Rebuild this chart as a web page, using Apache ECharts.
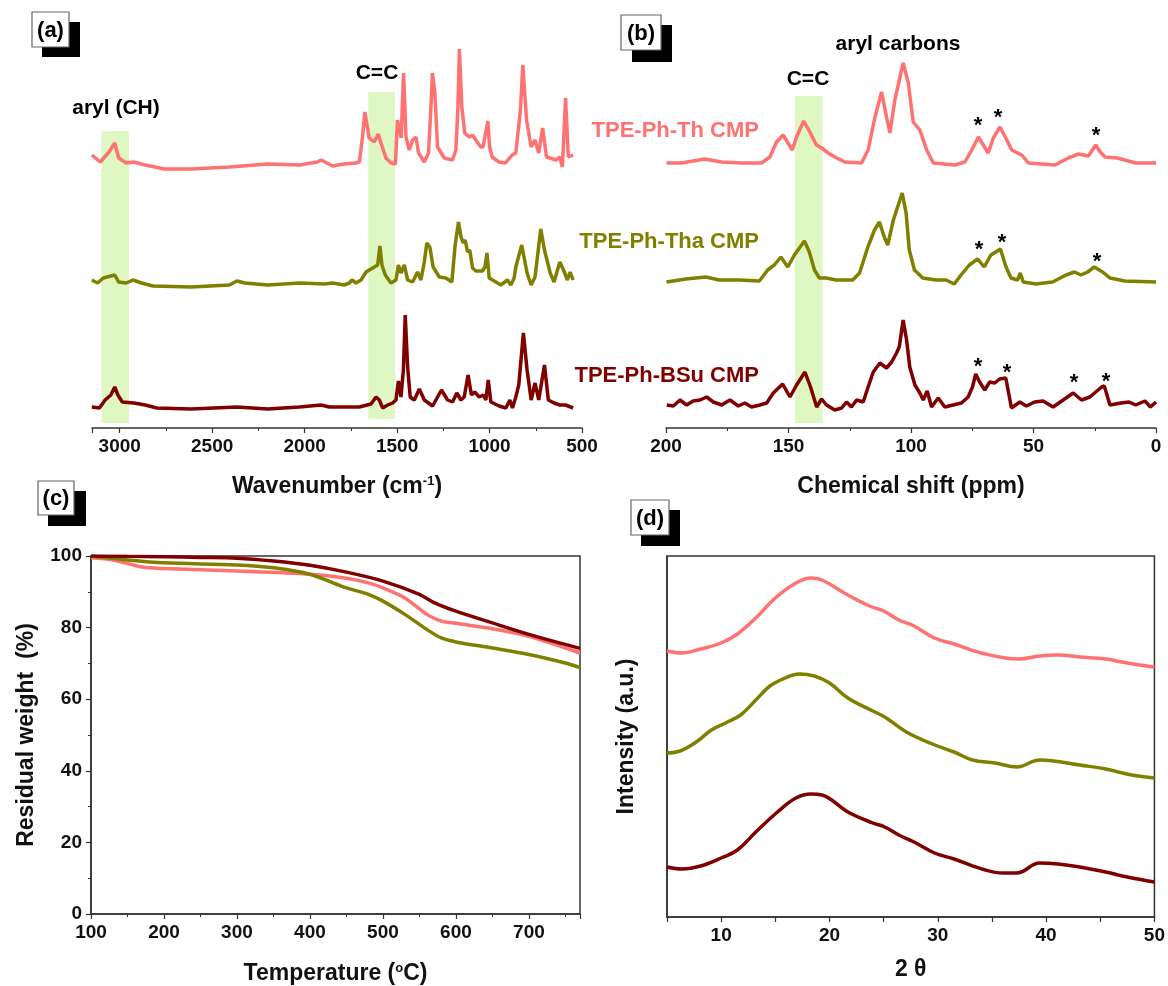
<!DOCTYPE html>
<html>
<head>
<meta charset="utf-8">
<script src="https://cdn.jsdelivr.net/npm/echarts@6/dist/echarts.min.js"></script>
<style>
  html, body { margin: 0; padding: 0; background: #fff; }
  #chart { width: 1168px; height: 986px; }
</style>
</head>
<body>
<div id="chart"></div>
<script>
// (a) FT-IR, [wavenumber, intensity a.u.]
var irTh = [[3151,273],[3105,266],[3058,276],[3027,285],[3006,270],[2965,265],[2924,266],[2862,263],[2758,259],[2614,259],[2407,261],[2200,264],[2028,263],[1932,266],[1911,268],[1870,264],[1850,262],[1787,264],[1725,265],[1704,266],[1687,291],[1674,316],[1651,290],[1624,286],[1602,294],[1587,285],[1560,270],[1533,265],[1509,264],[1498,308],[1489,300],[1478,290],[1465,355],[1452,291],[1434,278],[1416,288],[1398,291],[1384,275],[1353,266],[1330,275],[1317,321],[1309,355],[1296,335],[1281,281],[1245,270],[1200,268],[1182,278],[1171,321],[1163,379],[1150,321],[1134,295],[1110,291],[1092,293],[1074,288],[1047,281],[1035,281],[1025,291],[1009,307],[1000,281],[986,271],[950,266],[914,265],[878,273],[858,275],[833,318],[820,363],[800,308],[775,281],[754,288],[734,275],[713,300],[692,271],[641,268],[620,271],[606,261],[589,330],[574,271],[548,273]];
var irTha = [[3151,148],[3120,145],[3089,150],[3048,152],[3027,153],[3006,146],[2965,145],[2928,148],[2882,145],[2820,142],[2614,141],[2407,143],[2366,147],[2324,145],[2200,143],[2028,145],[1891,144],[1848,145],[1787,143],[1758,145],[1744,148],[1722,145],[1695,148],[1668,156],[1632,160],[1605,163],[1593,182],[1582,163],[1564,153],[1533,145],[1506,148],[1493,163],[1479,155],[1461,163],[1443,148],[1416,146],[1389,156],[1371,148],[1353,166],[1339,185],[1323,181],[1305,161],[1272,151],[1236,150],[1204,146],[1186,183],[1168,206],[1154,191],[1143,185],[1132,188],[1119,176],[1107,178],[1092,160],[1074,157],[1038,157],[1025,161],[1014,175],[1002,150],[966,146],[939,143],[903,148],[885,143],[867,150],[858,161],[826,183],[797,155],[775,143],[754,151],[723,199],[703,178],[672,155],[651,146],[620,166],[600,158],[579,148],[564,156],[548,148]];
var irBSu = [[3151,21],[3110,20],[3079,28],[3048,33],[3027,41],[3010,33],[2986,26],[2924,25],[2862,23],[2800,20],[2614,19],[2366,21],[2200,19],[2028,21],[1911,23],[1902,24],[1866,21],[1787,21],[1704,21],[1641,24],[1614,31],[1596,28],[1578,20],[1551,23],[1524,25],[1506,28],[1493,47],[1479,31],[1466,58],[1456,113],[1443,61],[1429,31],[1407,28],[1380,39],[1353,28],[1308,22],[1260,38],[1227,28],[1200,26],[1177,35],[1155,28],[1137,31],[1116,53],[1098,33],[1080,36],[1056,31],[1033,33],[1020,28],[1007,48],[993,26],[948,22],[912,20],[890,28],[876,20],[858,31],[842,43],[817,95],[797,58],[775,28],[754,45],[734,28],[703,63],[682,28],[651,25],[620,23],[589,23],[548,20]];
var irBands = [[3099, 2950, 5, 297], [1656, 1512, 9, 336]]; // x from, x to, y from, y to

// (b) 13C NMR, [ppm, intensity a.u.]
var nmrTh = [[199.8,265],[193.7,265],[184.2,269],[177.4,266],[169.2,265],[161,265],[157.6,271],[154.9,286],[152.2,293],[150.2,285],[148.5,278],[146.7,291],[143.8,307],[141.3,296],[138.6,283],[136.5,280],[133.8,275],[131.1,271],[127,266],[120.2,265],[117.5,278],[114.7,311],[112,336],[110,311],[108.6,295],[106.6,328],[103.2,365],[101.1,345],[99.1,306],[96.4,298],[93.6,278],[90.9,265],[82.1,263],[78,266],[75.2,278],[72.5,291],[70.5,283],[68.5,275],[66.4,290],[63.7,301],[60.9,288],[58.9,278],[54.8,273],[52.1,265],[41.2,263],[35.8,270],[31.7,274],[27.6,272],[24.6,283],[22.8,276],[20.8,271],[15.8,270],[8.3,265],[0,265]];
var nmrTha = [[199.8,146],[191.9,149],[183.7,151],[178.3,148],[170.2,148],[161.9,147],[158.5,158],[155.8,163],[153.1,171],[150.3,161],[147.6,173],[143.5,187],[141.5,176],[139.4,158],[137.4,150],[134.6,150],[130.6,148],[123.8,148],[121,155],[117.6,181],[114.9,198],[112.9,206],[110.9,191],[109.5,183],[107.2,208],[103.6,235],[102,215],[100.7,178],[98.6,158],[95.2,150],[89.8,148],[85.7,148],[82.3,144],[79.6,153],[76.2,163],[72.8,169],[70.1,161],[67.4,173],[63.5,179],[61.2,161],[59.2,150],[56.5,148],[55.4,155],[54.2,146],[49,144],[42.2,146],[36.7,153],[33.3,156],[30.6,153],[27.9,156],[25.2,161],[21.8,156],[18.8,150],[12.8,147],[0,146]];
var nmrBSu = [[199.7,23],[197,22],[194.3,28],[191.6,23],[188.9,27],[186.1,28],[183.4,31],[180.7,26],[177.3,23],[173.9,28],[170.5,22],[167.8,25],[165.1,21],[161.7,23],[158.9,25],[156.2,35],[152.4,44],[149.4,31],[146.7,43],[143.3,56],[141,41],[138.5,21],[136.5,29],[134.5,23],[131.1,18],[128.3,20],[126.3,26],[124.3,21],[122.2,28],[119.5,26],[117.5,41],[115.4,56],[112.7,65],[110,60],[107.9,66],[105.9,75],[104.8,81],[103.2,108],[101.8,88],[100.5,61],[98.4,43],[96.4,35],[95,28],[93.4,37],[91.6,21],[88.9,30],[86.2,21],[82.8,23],[79.4,25],[76.7,31],[74.9,41],[73.6,54],[72,46],[69.9,38],[67.9,46],[65.8,45],[63.8,49],[61.3,50],[59,20],[55.6,26],[52.9,22],[49.5,26],[46.1,27],[42,21],[37.9,28],[33.8,35],[30.4,28],[27,31],[22.2,41],[21.1,42],[18.8,23],[14.3,25],[11,26],[8.3,23],[4.5,27],[2.3,21],[0,26]];
var nmrBand = [147.4, 136.1, 5, 332];

// (c) TGA, [temperature, residual weight %]
var tgaTh = [[100,99.5],[130,98.9],[170,96.9],[200,96.5],[300,95.8],[400,94.9],[450,93.8],[480,92.5],[500,91.1],[530,88.3],[560,83.7],[580,81.8],[600,81.2],[650,79.7],[700,77.6],[750,74.3],[770,72.9]];
var tgaTha = [[100,100],[150,98.9],[200,98.1],[300,97.5],[350,96.7],[400,94.9],[450,91.1],[480,89.3],[500,87.4],[530,83.7],[560,79.5],[580,77.1],[600,76],[650,74.3],[700,72.5],[750,70.1],[770,68.8]];
var tgaBSu = [[100,100],[150,99.9],[200,99.8],[250,99.6],[300,99.4],[350,98.6],[400,97.4],[450,95.5],[500,93],[550,89.3],[570,87],[600,84.6],[650,81.3],[700,78.1],[750,75.3],[770,74.2]];

// (d) PXRD, [2theta, intensity a.u.]
var xrdTh = [[5,266],[6.4,264],[8.1,268],[10,274],[11.5,283],[13.2,299],[15,319],[16.9,334],[18.3,339],[19.3,337],[21.7,322],[23.7,311],[25,306],[26.4,297],[27.8,291],[29.7,279],[31.5,273],[34.4,263],[37.5,258],[39.4,261],[41.1,262],[43.1,260],[45.5,258],[47.5,254],[50,250]];
var xrdTha = [[5,164],[6.2,166],[7.7,175],[9.1,187],[10.4,194],[11.8,202],[13.2,217],[14.5,231],[15.9,239],[17.2,243],[18.6,241],[20,234],[21.7,219],[24,206],[25.1,200],[27.1,185],[29.5,173],[31.5,165],[33.2,157],[35.3,154],[37.3,150],[39.4,157],[40.7,156],[43.1,152],[45.5,148],[47.9,142],[50,139]];
var xrdBSu = [[5,50],[6.4,48],[8.1,51],[10,59],[11.5,67],[13.2,85],[15.2,105],[16.9,119],[18.3,123],[19.3,122],[21.7,105],[24,94],[25.1,90],[26.4,82],[27.8,75],[29.7,64],[31.5,58],[34.4,47],[36,44],[37.3,44],[39.4,54],[41.1,53],[43.1,50],[45.5,45],[47.5,40],[50,35]];

var names = ['TPE-Ph-Th CMP', 'TPE-Ph-Tha CMP', 'TPE-Ph-BSu CMP'];
var colors = ['#ff7272', '#808000', '#800000'];
var bandColor = '#dff7c3';
var font = "'Liberation Sans', Arial, sans-serif";

var chart = echarts.init(document.getElementById('chart'));

function label(extra) {
  return Object.assign({
    color: '#111', fontSize: 19, fontWeight: 'bold', fontFamily: font, margin: 9,
    formatter: function (v) { return String(v); }
  }, extra || {});
}

function axisBase(extra) {
  var ax = {
    axisLine: { show: true, lineStyle: { color: '#333', width: 1.5 } },
    axisTick: { show: true, length: 5, lineStyle: { color: '#333', width: 1.2 } },
    minorTick: { show: true, splitNumber: 2, length: 3, lineStyle: { color: '#333', width: 1 } },
    splitLine: { show: false },
    axisLabel: label(),
    nameTextStyle: {
      color: '#111', fontSize: 23, fontWeight: 'bold', fontFamily: font,
      rich: { sup: { fontSize: 13, fontWeight: 'bold', fontFamily: font, color: '#111', verticalAlign: 'top', lineHeight: 14 } }
    },
    nameLocation: 'middle'
  };
  return Object.assign(ax, extra);
}

function band(b) {
  return [{ xAxis: b[0], yAxis: b[2] }, { xAxis: b[1], yAxis: b[3] }];
}

function lineSeries(name, data, idx, color, extra) {
  return Object.assign({
    name: name, type: 'line', data: data, xAxisIndex: idx, yAxisIndex: idx,
    showSymbol: false, symbol: 'none', silent: true, z: 3,
    lineStyle: { color: color, width: 3.5 }
  }, extra || {});
}

function txt(text, x, y, size, color, align) {
  return {
    type: 'text', x: x, y: y, silent: true, z: 50,
    style: { text: text, fill: color || '#000', font: 'bold ' + size + 'px ' + font, align: align || 'center', verticalAlign: 'middle' }
  };
}

function panelTag(lbl, wx, wy, ww, wh, bx, by, bw, bh) {
  return [
    { type: 'rect', shape: { x: bx, y: by, width: bw, height: bh }, style: { fill: '#000' }, z: 40 },
    { type: 'rect', shape: { x: wx, y: wy, width: ww, height: wh }, style: { fill: '#fff', stroke: '#666', lineWidth: 1.2 }, z: 41 },
    txt(lbl, wx + ww / 2, wy + wh / 2 + 1, 22, '#000')
  ];
}

var graphics = [].concat(
  panelTag('(a)', 32, 12, 37, 35, 42, 22, 38, 35),
  panelTag('(b)', 621, 15, 40, 35, 632, 25, 40, 37),
  panelTag('(c)', 38, 481, 36, 34, 48, 491, 38, 35),
  panelTag('(d)', 631, 500, 38, 35, 641, 510, 39, 36),
  [
    txt('aryl (CH)', 116, 108, 21),
    txt('C=C', 377, 73, 21),
    txt('aryl carbons', 898, 44, 21),
    txt('C=C', 808, 79, 21),
    txt(names[0], 759, 131, 22, colors[0], 'right'),
    txt(names[1], 759, 242, 22, colors[1], 'right'),
    txt(names[2], 759, 376, 22, colors[2], 'right'),
    // asterisks on the NMR traces
    txt('*', 978, 126, 22), txt('*', 998, 118, 22), txt('*', 1096, 136, 22),
    txt('*', 979, 250, 22), txt('*', 1002, 243, 22), txt('*', 1097, 262, 22),
    txt('*', 978, 367, 22), txt('*', 1007, 373, 22), txt('*', 1074, 383, 22), txt('*', 1106, 382, 22)
  ]
);

var option = {
  backgroundColor: '#fff',
  animation: false,
  textStyle: { fontFamily: font },
  graphic: graphics,
  grid: [
    { left: 92, top: 28, width: 490, height: 400, show: false },
    { left: 666, top: 28, width: 490, height: 400, show: false },
    { left: 91, top: 556, width: 489, height: 361, show: true, borderColor: '#333', borderWidth: 1.5, backgroundColor: 'transparent' },
    { left: 667, top: 556, width: 489, height: 361, show: true, borderColor: '#333', borderWidth: 1.5, backgroundColor: 'transparent' }
  ],
  xAxis: [
    axisBase({
      gridIndex: 0, type: 'value', inverse: true, min: 500, max: 3150, interval: 500,
      name: 'Wavenumber (cm{sup|-1})', nameGap: 47,
      axisLabel: label({ showMaxLabel: false })
    }),
    axisBase({
      gridIndex: 1, type: 'value', inverse: true, min: 0, max: 200, interval: 50,
      name: 'Chemical shift (ppm)', nameGap: 47
    }),
    axisBase({
      gridIndex: 2, type: 'value', min: 100, max: 770, interval: 100,
      name: 'Temperature ({sup|o}C)', nameGap: 48,
      axisLabel: label({ showMaxLabel: false })
    }),
    axisBase({
      gridIndex: 3, type: 'value', min: 5, max: 50, interval: 5,
      name: '2 \u03b8', nameGap: 41,
      minorTick: { show: false },
      axisLabel: label({ formatter: function (v) { return v % 10 === 0 ? String(v) : ''; } })
    })
  ],
  yAxis: [
    { gridIndex: 0, type: 'value', min: 0, max: 400, show: false },
    { gridIndex: 1, type: 'value', min: 0, max: 400, show: false },
    axisBase({
      gridIndex: 2, type: 'value', min: 0, max: 100, interval: 20,
      name: 'Residual weight  (%)', nameGap: 53
    }),
    axisBase({
      gridIndex: 3, type: 'value', min: 0, max: 361,
      name: 'Intensity (a.u.)', nameGap: 29,
      axisTick: { show: false }, minorTick: { show: false }, axisLabel: { show: false }
    })
  ],
  series: [
    lineSeries(names[0], irTh, 0, colors[0], {
      markArea: { silent: true, z: 1, itemStyle: { color: bandColor }, data: irBands.map(band) }
    }),
    lineSeries(names[1], irTha, 0, colors[1]),
    lineSeries(names[2], irBSu, 0, colors[2]),
    lineSeries(names[0], nmrTh, 1, colors[0], {
      markArea: { silent: true, z: 1, itemStyle: { color: bandColor }, data: [band(nmrBand)] }
    }),
    lineSeries(names[1], nmrTha, 1, colors[1]),
    lineSeries(names[2], nmrBSu, 1, colors[2]),
    lineSeries(names[0], tgaTh, 2, colors[0], { smooth: 0.3 }),
    lineSeries(names[1], tgaTha, 2, colors[1], { smooth: 0.3 }),
    lineSeries(names[2], tgaBSu, 2, colors[2], { smooth: 0.3 }),
    lineSeries(names[0], xrdTh, 3, colors[0], { smooth: 0.4 }),
    lineSeries(names[1], xrdTha, 3, colors[1], { smooth: 0.4 }),
    lineSeries(names[2], xrdBSu, 3, colors[2], { smooth: 0.4 })
  ]
};

chart.setOption(option);
</script>
</body>
</html>
